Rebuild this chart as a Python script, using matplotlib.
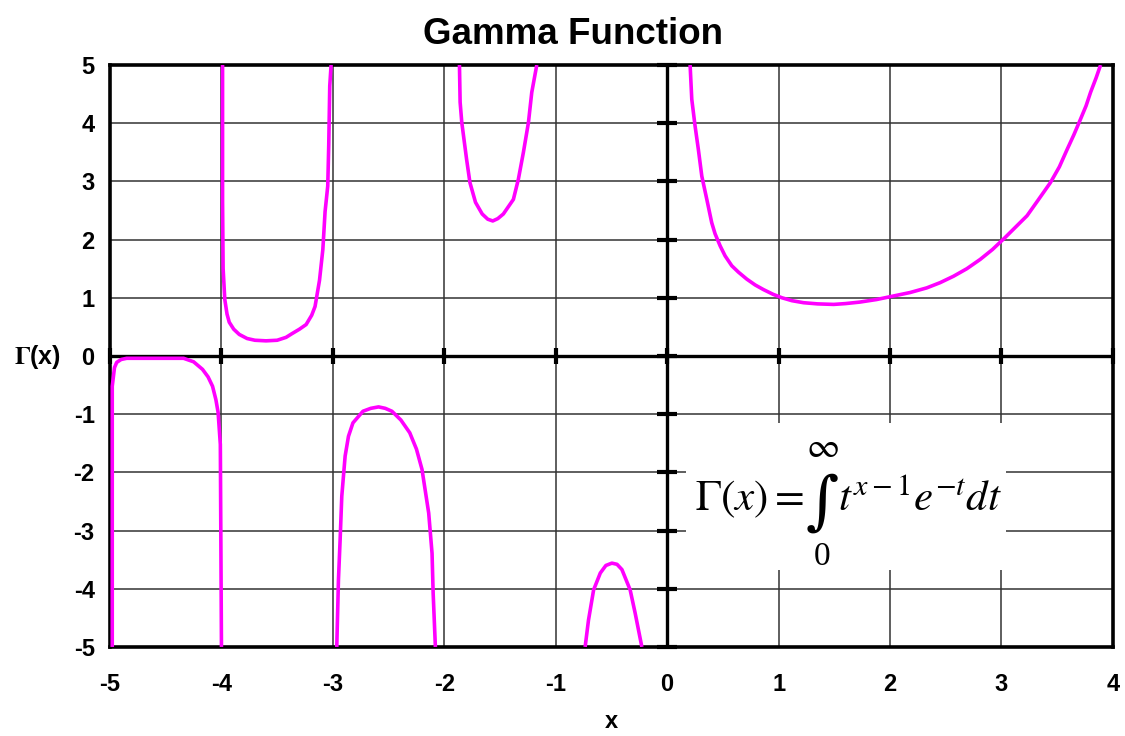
import numpy as np
import matplotlib.pyplot as plt
from matplotlib.patches import Rectangle

plt.rcParams['font.family'] = ['Liberation Sans', 'DejaVu Sans']
plt.rcParams['axes.unicode_minus'] = False
plt.rcParams['mathtext.fontset'] = 'stix'

# one list pair per branch between the poles
x_b1 = [-4.98, -4.98, -4.96, -4.94, -4.9, -4.85, -4.6, -4.34, -4.25, -4.17,
        -4.12, -4.08, -4.05, -4.03, -4.01, -4.0]
y_b1 = [-5.0, -0.52, -0.2, -0.11, -0.06, -0.04, -0.04, -0.04, -0.1, -0.23,
        -0.36, -0.52, -0.75, -0.97, -1.52, -5.0]

x_b2 = [-3.99, -3.99, -3.985, -3.97, -3.95, -3.93, -3.89, -3.84, -3.77, -3.7,
        -3.6, -3.5, -3.42, -3.37, -3.3, -3.24, -3.19, -3.16, -3.12, -3.09,
        -3.07, -3.046, -3.037, -3.028, -3.016]
y_b2 = [5.0, 2.66, 1.5, 0.97, 0.72, 0.58, 0.46, 0.37, 0.3, 0.27,
        0.26, 0.27, 0.32, 0.38, 0.46, 0.54, 0.7, 0.85, 1.3, 1.83,
        2.48, 2.92, 3.63, 4.64, 5.0]

x_b3 = [-2.965, -2.95, -2.935, -2.92, -2.89, -2.86, -2.82, -2.73, -2.66, -2.59,
        -2.53, -2.47, -2.39, -2.31, -2.25, -2.2, -2.14, -2.11, -2.1, -2.08]
y_b3 = [-5.0, -3.85, -3.16, -2.41, -1.72, -1.38, -1.15, -0.95, -0.9, -0.875,
        -0.9, -0.95, -1.1, -1.32, -1.6, -1.95, -2.7, -3.39, -4.08, -5.0]

x_b4 = [-1.864, -1.858, -1.843, -1.8, -1.77, -1.72, -1.66, -1.61, -1.565, -1.52,
        -1.47, -1.38, -1.335, -1.29, -1.245, -1.215, -1.17]
y_b4 = [5.0, 4.36, 4.01, 3.38, 2.98, 2.64, 2.44, 2.35, 2.32, 2.36,
        2.44, 2.69, 3.04, 3.5, 4.01, 4.53, 5.0]

x_b5 = [-0.736, -0.706, -0.66, -0.6, -0.55, -0.496, -0.45, -0.406, -0.332,
        -0.287, -0.227]
y_b5 = [-5.0, -4.54, -4.02, -3.73, -3.6, -3.56, -3.58, -3.67, -4.02,
        -4.42, -5.0]

x_b6 = [0.206, 0.221, 0.25, 0.28, 0.311, 0.356, 0.4, 0.43, 0.476, 0.52,
        0.58, 0.64, 0.715, 0.79, 0.865, 0.95, 1.03, 1.12, 1.225, 1.35,
        1.495, 1.6, 1.73, 1.88, 2.03, 2.18, 2.33, 2.45, 2.57, 2.69,
        2.81, 2.92, 3.03, 3.13, 3.23, 3.33, 3.44, 3.52, 3.59, 3.65,
        3.71, 3.76, 3.8, 3.85, 3.89]
y_b6 = [5.0, 4.41, 3.96, 3.55, 3.09, 2.69, 2.29, 2.1, 1.89, 1.72,
        1.55, 1.44, 1.32, 1.22, 1.14, 1.06, 1.0, 0.95, 0.915, 0.895,
        0.886, 0.9, 0.926, 0.97, 1.03, 1.09, 1.17, 1.26, 1.37, 1.5,
        1.66, 1.83, 2.03, 2.22, 2.41, 2.68, 2.98, 3.25, 3.55, 3.8,
        4.07, 4.3, 4.53, 4.78, 5.0]

branches = [(x_b1, y_b1), (x_b2, y_b2), (x_b3, y_b3),
            (x_b4, y_b4), (x_b5, y_b5), (x_b6, y_b6)]

x_ticks = [-5, -4, -3, -2, -1, 0, 1, 2, 3, 4]
y_ticks = [-5, -4, -3, -2, -1, 0, 1, 2, 3, 4, 5]

fig = plt.figure(figsize=(11.25, 7.36), dpi=100)
ax = fig.add_axes([0.0978, 0.121, 0.8914, 0.7907])

ax.set_xlim(-5, 4)
ax.set_ylim(-5, 5)
ax.set_xticks(x_ticks)
ax.set_yticks(y_ticks)
ax.set_xticklabels([str(v) for v in x_ticks], fontweight='bold', fontsize=17)
ax.set_yticklabels([str(v) for v in y_ticks], fontweight='bold', fontsize=17)
ax.tick_params(axis='x', length=0, pad=19)
ax.tick_params(axis='y', length=0, pad=11)
ax.grid(True, color='#333333', linewidth=1.1, zorder=0)
ax.set_axisbelow(True)
for s in ax.spines.values():
    s.set_linewidth(2.6)
    s.set_color('black')

# main axes through the origin with short cross ticks
ax.axhline(0, color='black', lw=2.4, zorder=2)
ax.axvline(0, color='black', lw=2.4, zorder=2)
ax.plot(x_ticks, [0] * len(x_ticks), ls='none', marker='|', ms=12, mew=3,
        color='black', zorder=2, clip_on=False)
ax.plot([0] * len(y_ticks), y_ticks, ls='none', marker='_', ms=14, mew=3,
        color='black', zorder=2, clip_on=False)

for bx, by in branches:
    ax.plot(bx, by, color='#FF00FF', lw=2.6, zorder=3,
            solid_joinstyle='round', solid_capstyle='butt')

# white box behind the definition
ax.add_patch(Rectangle((0.17, -3.68), 2.87, 2.52, facecolor='white',
                       edgecolor='none', zorder=1.5))
ax.text(0.25, -2.47, r'$\Gamma(x) =$', fontsize=31,
        ha='left', va='center', zorder=4)
ax.text(1.39, -2.55, '\u222b', fontsize=46, family='DejaVu Serif',
        ha='center', va='center', zorder=4)
ax.text(1.53, -2.47, r'$t^{x-1}e^{-t}dt$', fontsize=31,
        ha='left', va='center', zorder=4)
ax.text(1.39, -1.57, r'$\infty$', fontsize=26, ha='center', va='center', zorder=4)
ax.text(1.39, -3.45, '0', fontsize=24, family='Liberation Serif',
        ha='center', va='center', zorder=4)

ax.set_xlabel('x', fontsize=17, fontweight='bold', labelpad=10)
fig.text(0.033, 0.515, r'$\mathbf{\Gamma}$' + '(x)', fontsize=18, fontweight='bold',
         ha='center', va='center')
fig.suptitle('Gamma Function', fontsize=26.5, fontweight='bold', x=0.509, y=0.977)

fig.savefig('out.png', dpi=100)
